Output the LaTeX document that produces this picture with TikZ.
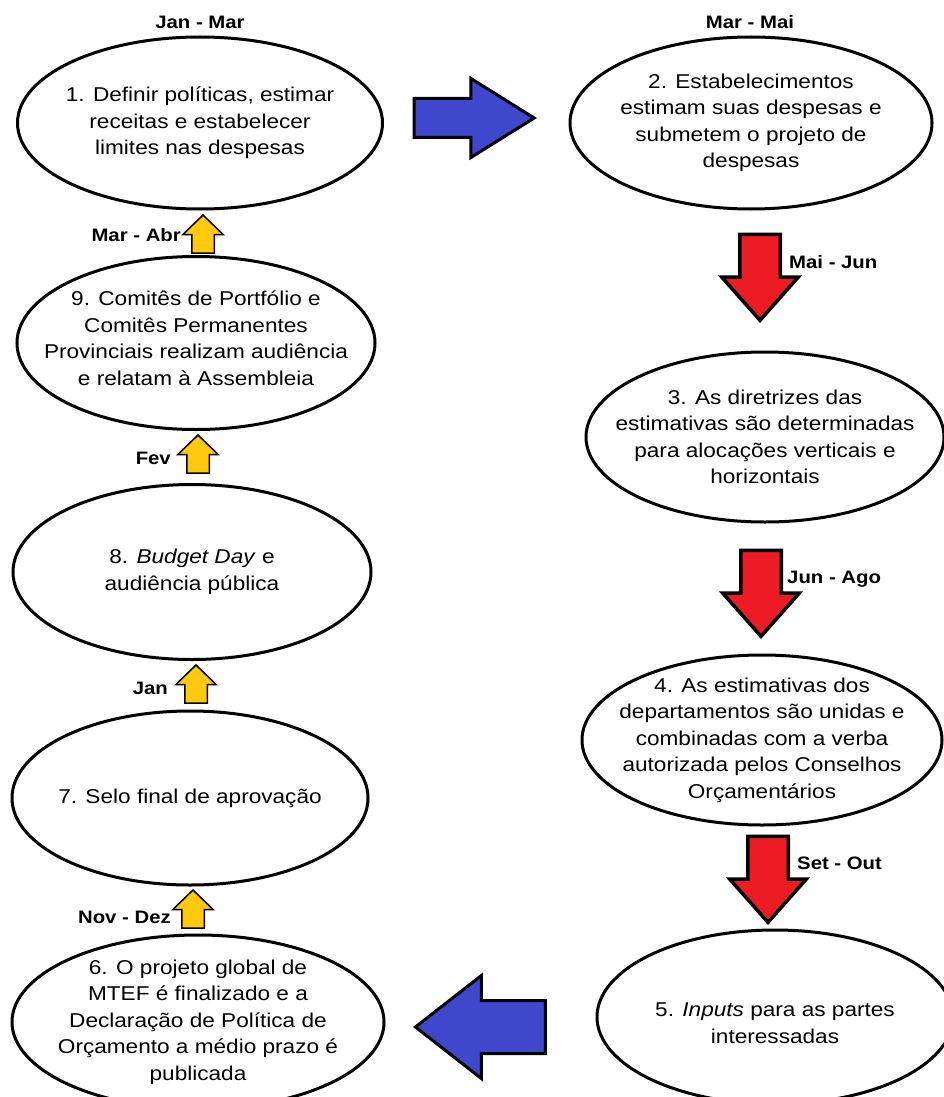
\documentclass[tikz,border=0pt]{standalone}
\usepackage{fontspec}
\setmainfont[FakeStretch=1.13]{Liberation Sans}
\usetikzlibrary{shapes.geometric,shapes.arrows}
\definecolor{blueblock}{RGB}{63,72,204}
\definecolor{redblock}{RGB}{237,28,36}
\definecolor{goldblock}{RGB}{255,201,14}

\begin{document}
\begin{tikzpicture}
[every node/.style={inner sep=0pt},
 phase/.style={ellipse, draw=black, line width=3pt, fill=white},
 body/.style={align=center, font=\fontsize{20}{26.5}\selectfont},
 month/.style={font=\bfseries\fontsize{18}{22}\selectfont},
 flow/.style={single arrow, draw=black, single arrow head indent=0pt, anchor=tip},
 bigflow/.style={flow, fill=blueblock, line width=3pt},
 downflow/.style={flow, fill=redblock, line width=3.5pt, rotate=-90, minimum height=86pt, inner ysep=18.5pt, single arrow head extend=18pt, single arrow tip angle=83},
 upflow/.style={flow, fill=goldblock, line width=1.5pt, rotate=90, minimum height=38pt, inner ysep=10.5pt, single arrow head extend=9pt, single arrow tip angle=92}]
\useasboundingbox (0pt,0pt) rectangle (944pt,-1097pt);
% phases
\node (p1) [phase, minimum width=365pt, minimum height=172pt] at (200pt, -123pt) {};
\node (p2) [phase, minimum width=362pt, minimum height=172pt] at (751pt, -123pt) {};
\node (p3) [phase, minimum width=358pt, minimum height=170pt] at (765pt, -437pt) {};
\node (p4) [phase, minimum width=360pt, minimum height=170pt] at (762pt, -740pt) {};
\node (p5) [phase, minimum width=356pt, minimum height=174pt] at (775pt, -1017pt) {};
\node (p6) [phase, minimum width=372pt, minimum height=174pt] at (198pt, -1022pt) {};
\node (p7) [phase, minimum width=356pt, minimum height=174pt] at (190pt, -798pt) {};
\node (p8) [phase, minimum width=358pt, minimum height=175pt] at (192pt, -572pt) {};
\node (p9) [phase, minimum width=358pt, minimum height=173pt] at (196pt, -343pt) {};
% texts
\node (t1) [body] at (p1) {1. Definir políticas, estimar\\receitas e estabelecer\\limites nas despesas};
\node (t2) [body] at (p2) {2. Estabelecimentos\\estimam suas despesas e\\submetem o projeto de\\despesas};
\node (t3) [body] at (p3) {3. As diretrizes das\\estimativas são determinadas\\para alocações verticais e\\horizontais};
\node (t4) [body] at (p4) {4. As estimativas dos\\departamentos são unidas e\\combinadas com a verba\\autorizada pelos Conselhos\\Orçamentários};
\node (t5) [body] at ([yshift=-6pt]p5) {5. \textit{Inputs} para as partes\\interessadas};
\node (t6) [body] at (p6) {6. O projeto global de\\MTEF é finalizado e a\\Declaração de Política de\\Orçamento a médio prazo é\\publicada};
\node (t7) [body] at (p7) {7. Selo final de aprovação};
\node (t8) [body] at (p8) {8. \textit{Budget Day} e\\audiência pública};
\node (t9) [body] at ([yshift=5pt]p9) {9. Comitês de Portfólio e\\Comitês Permanentes\\Provinciais realizam audiência\\e relatam à Assembleia};
% block arrows, placed by their tips
\node (f12) [bigflow, minimum height=120pt, inner ysep=18pt, single arrow head extend=20pt, single arrow tip angle=64] at (537pt, -118pt) {};
\node (f23) [downflow] at (760pt, -323pt) {};
\node (f34) [downflow] at (761pt, -639pt) {};
\node (f45) [downflow] at (768pt, -925pt) {};
\node (f56) [bigflow, rotate=180, minimum height=130pt, inner ysep=25pt, single arrow head extend=25pt, single arrow tip angle=76] at (413pt, -1027pt) {};
\node (f67) [upflow] at (193pt, -889pt) {};
\node (f78) [upflow] at (196pt, -664pt) {};
\node (f89) [upflow] at (198pt, -434pt) {};
\node (f91) [upflow] at (203pt, -214pt) {};
% months
\node (m1) [month] at (200pt, -22pt) {Jan - Mar};
\node (m2) [month] at (750pt, -22pt) {Mar - Mai};
\node (m3) [month, anchor=west] at (789pt, -262pt) {Mai - Jun};
\node (m4) [month, anchor=west] at (787pt, -579pt) {Jun - Ago};
\node (m5) [month, anchor=west] at (797pt, -863pt) {Set - Out};
\node (m6) [month, anchor=east] at (171pt, -917pt) {Nov - Dez};
\node (m7) [month, anchor=east] at (168pt, -688pt) {Jan};
\node (m8) [month, anchor=east] at (171pt, -458pt) {Fev};
\node (m9) [month, anchor=east] at (181pt, -235pt) {Mar - Abr};
\end{tikzpicture}
\end{document}
